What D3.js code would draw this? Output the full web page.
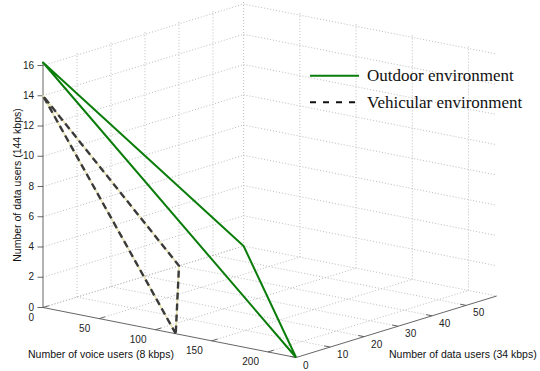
<!DOCTYPE html>
<html>
<head>
<meta charset="utf-8">
<script src="https://cdn.jsdelivr.net/npm/d3@7"></script>
<style>
  html, body { margin: 0; padding: 0; background: #fff; }
  svg { display: block; }
  .tick { font-family: "Liberation Sans", Arial, sans-serif; font-size: 10px; fill: #222; }
  .alabel { font-family: "Liberation Sans", Arial, sans-serif; font-size: 10.5px; fill: #111; }
  .leg { font-family: "Liberation Serif", "Times New Roman", serif; font-size: 17px; fill: #111; }
</style>
</head>
<body>
<script>
// ---- data ----
const voiceTicks = [0, 50, 100, 150, 200];
const data34Ticks = [0, 10, 20, 30, 40, 50];
const data144Ticks = [0, 2, 4, 6, 8, 10, 12, 14, 16];
const voiceMax = 225, data34Max = 59, data144Max = 16.2;

const seriesNames = ["Outdoor environment", "Vehicular environment"];
const outdoorVoice   = [225, 0, 0, 225];
const outdoorData34  = [0, 0, 59, 0];
const outdoorData144 = [0, 16.2, 0, 0];
const vehicularVoice   = [118, 0, 0, 118];
const vehicularData34  = [0, 0, 40, 0];
const vehicularData144 = [0, 14, 0, 0];

// ---- projection via linear scales ----
const W = 540, H = 371;
const ox = 43, oy = 307.5;
const vX = d3.scaleLinear().domain([0, voiceMax]).range([0, 253.1]);
const vY = d3.scaleLinear().domain([0, voiceMax]).range([0, 50]);
const dX = d3.scaleLinear().domain([0, data34Max]).range([0, 200.6]);
const dY = d3.scaleLinear().domain([0, data34Max]).range([0, -61.5]);
const zY = d3.scaleLinear().domain([0, data144Max]).range([0, -245]);
function P(v, d, z) { return [ox + vX(v) + dX(d), oy + vY(v) + dY(d) + zY(z)]; }

const svg = d3.select("body").append("svg").attr("width", W).attr("height", H);
const line = d3.line();

function seg(g, a, b) {
  return g.append("path").attr("d", line([a, b]));
}

// ---- grid ----
const grid = svg.append("g").attr("fill", "none").attr("stroke", "#bdbdbd")
  .attr("stroke-width", 1).attr("stroke-dasharray", "1,2");
// floor
data34Ticks.forEach(d => { if (d > 0) seg(grid, P(0, d, 0), P(voiceMax, d, 0)); });
voiceTicks.forEach(v => seg(grid, P(v, 0, 0), P(v, data34Max, 0)));
// left wall (voice = 0)
data144Ticks.forEach(z => seg(grid, P(0, 0, z), P(0, data34Max, z)));
data34Ticks.forEach(d => { if (d > 0) seg(grid, P(0, d, 0), P(0, d, data144Max)); });
// right wall (data34 = max)
data144Ticks.forEach(z => seg(grid, P(0, data34Max, z), P(voiceMax, data34Max, z)));
voiceTicks.forEach(v => seg(grid, P(v, data34Max, 0), P(v, data34Max, data144Max)));

// ---- axes ----
const ax = svg.append("g").attr("fill", "none").attr("stroke", "#555").attr("stroke-width", 0.9);
seg(ax, P(0, 0, 0), P(voiceMax, 0, 0));
seg(ax, P(voiceMax, 0, 0), P(voiceMax, data34Max, 0));
seg(ax, P(0, 0, 0), P(0, 0, data144Max));

function unit(a, b) { const L = Math.hypot(b[0]-a[0], b[1]-a[1]); return [(b[0]-a[0])/L, (b[1]-a[1])/L]; }
const dUnit = unit(P(0, 0, 0), P(0, data34Max, 0));
const vUnit = unit(P(0, 0, 0), P(voiceMax, 0, 0));

voiceTicks.forEach(v => {
  const p = P(v, 0, 0);
  seg(ax, p, [p[0] + 6 * dUnit[0], p[1] + 6 * dUnit[1]]);
  svg.append("text").attr("class", "tick").attr("x", p[0] - 9).attr("y", p[1] + 9.5)
    .attr("text-anchor", "end").attr("dominant-baseline", "central").text(v);
});
data34Ticks.forEach(d => {
  const p = P(voiceMax, d, 0);
  seg(ax, p, [p[0] - 6 * vUnit[0], p[1] - 6 * vUnit[1]]);
  svg.append("text").attr("class", "tick").attr("x", p[0] + 7).attr("y", p[1] + 7.5)
    .attr("text-anchor", "start").attr("dominant-baseline", "central").text(d);
});
data144Ticks.forEach(z => {
  const p = P(0, 0, z);
  seg(ax, p, [p[0] - 5.5, p[1]]);
  svg.append("text").attr("class", "tick").attr("x", p[0] - 9).attr("y", p[1] - 0.5)
    .attr("text-anchor", "end").attr("dominant-baseline", "central").text(z);
});

// axis labels
svg.append("text").attr("class", "alabel").attr("x", 28).attr("y", 357.5).text("Number of voice users (8 kbps)");
svg.append("text").attr("class", "alabel").attr("x", 389).attr("y", 357.5).text("Number of data users (34 kbps)");
svg.append("text").attr("class", "alabel").attr("text-anchor", "middle")
  .attr("transform", "translate(21,185) rotate(-90)").text("Number of data users (144 kbps)");

// ---- series ----
function pts(V, D, Z) { return V.map((v, i) => P(v, D[i], Z[i])); }
const outdoorPts = pts(outdoorVoice, outdoorData34, outdoorData144);
const vehicularPts = pts(vehicularVoice, vehicularData34, vehicularData144);

svg.append("path").attr("d", line(vehicularPts)).attr("fill", "none")
  .attr("stroke", "#e6e0ad").attr("stroke-width", 1.6).attr("stroke-linejoin", "round");
svg.append("path").attr("d", line(vehicularPts)).attr("fill", "none")
  .attr("stroke", "#3a3a3a").attr("stroke-width", 2.4).attr("stroke-dasharray", "7,4");
svg.append("path").attr("d", line(outdoorPts)).attr("fill", "none")
  .attr("stroke", "#0a7d0a").attr("stroke-width", 2).attr("stroke-linejoin", "round");

// ---- legend ----
const leg = svg.append("g");
leg.append("path").attr("d", line([[310, 75.7], [359, 75.7]])).attr("stroke", "#0a7d0a").attr("stroke-width", 2);
leg.append("text").attr("class", "leg").attr("x", 367).attr("y", 81).text(seriesNames[0]);
leg.append("path").attr("d", line([[310, 102.3], [359, 102.3]])).attr("stroke", "#111")
  .attr("stroke-width", 2).attr("stroke-dasharray", "6,7");
leg.append("text").attr("class", "leg").attr("x", 367).attr("y", 107.5).text(seriesNames[1]);
</script>
</body>
</html>
